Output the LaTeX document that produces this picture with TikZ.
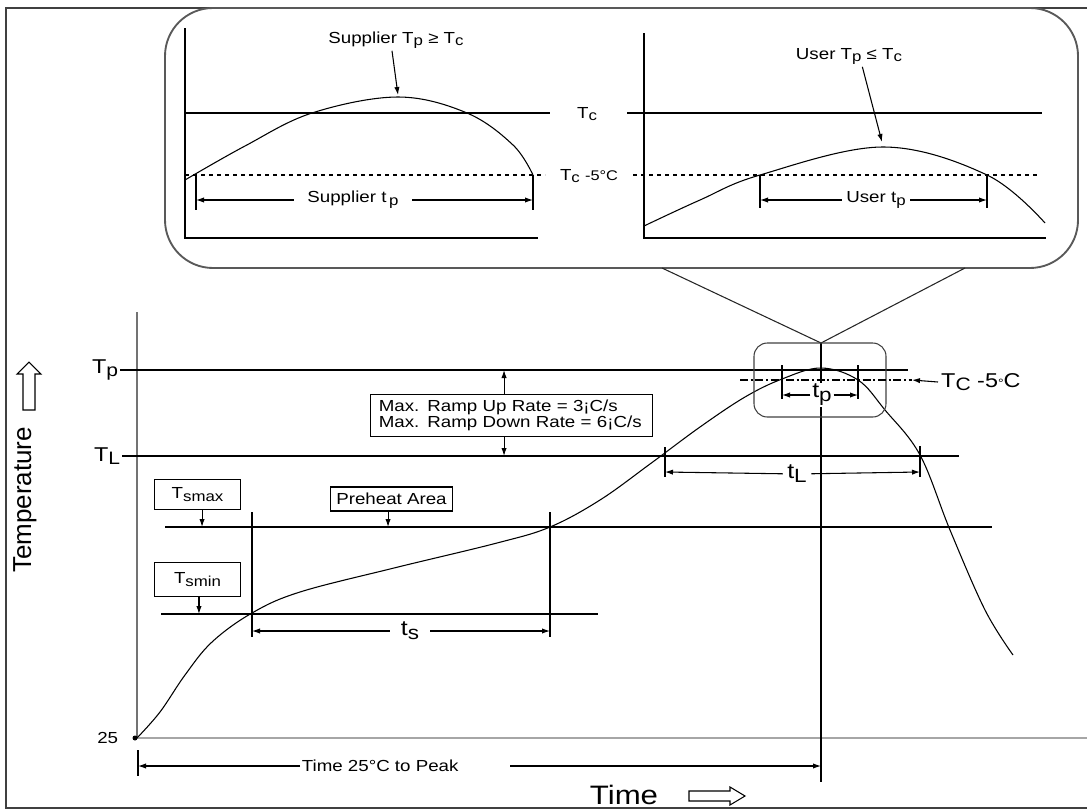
\documentclass[tikz,border=0pt]{standalone}
\usepackage{fontspec}
\setmainfont[FakeStretch=1.17]{Liberation Sans}
\newfontfamily\uprightsf{Liberation Sans}
\usetikzlibrary{arrows.meta}
\newcommand{\dn}[1]{\raisebox{-0.35ex}{\scalebox{0.9}{#1}}}
\newcommand{\fs}[1]{\fontsize{#1}{#1}\selectfont}

\begin{document}
\begin{tikzpicture}[x=0.75pt, y=-0.75pt, line width=0.8pt,
    >={Latex[length=6pt,width=4pt]},
    lab/.style={inner sep=1pt, font=\fs{12}},
    big/.style={inner sep=1pt, font=\fs{16}},
    tagbox/.style={draw, line width=0.8pt, inner sep=0pt, font=\fs{12}},
    hollow/.style={draw, line width=0.8pt, fill=white}]
    \useasboundingbox (0,0) rectangle (1087,810);

    % frame and callout
    \draw[line width=1.5pt, black!75] (1087,8) -- (6,8) -- (6,808) -- (1087,808);
    \draw[line width=1.4pt, black!65, rounded corners=36] (165,8) rectangle (1078,268);
    \coordinate (zoom) at (821,343);
    \coordinate (cl) at (662,268);
    \coordinate (cr) at (965,268);
    \draw[black!85] (cl) -- (zoom) -- (cr);

    % supplier inset
    \draw (185,28) -- (185,238) -- (538,238);
    \draw (185,113) -- (550,113);
    \draw[dashed] (185,175) -- (545,175);
    \draw plot[smooth, tension=0.6] coordinates {(185,180) (245,146) (312,113) (398,97) (467,113) (513,145) (533,175)};
    \draw (196,175) -- (196,210) (533,175) -- (533,210);
    \path
    node[lab, inner xsep=10pt] (suptp) at (353,200) {Supplier t\,\dn{p}}
    node[lab, anchor=base] (supTp) at (396,43) {Supplier T\dn{p} ≥ T\dn{c}}
    node[lab, anchor=base] (tc) at (587,118) {T\dn{c}}
    node[lab, anchor=base] (tc5) at (589,180) {T\dn{c} {\fs{10.5}-5°C}};
    \coordinate (suppeak) at (398,95);
    \path
    (suptp) edge[->] (196,200)
    (suptp) edge[->] (533,200)
    ([xshift=-3pt]supTp.south) edge[->] (suppeak);

    % user inset
    \draw (644,33) -- (644,238) -- (1046,238);
    \draw (627,113) -- (1042,113);
    \draw[dashed] (633,175) -- (1037,175);
    \draw plot[smooth, tension=0.6] coordinates {(644,226) (700,200) (760,175) (883,147) (987,175) (1045,223)};
    \draw (760,175) -- (760,208) (987,175) -- (987,208);
    \path
    node[lab, inner xsep=3pt] (usertp) at (876,200) {User t\dn{p}}
    node[lab, anchor=base] (userTp) at (849,59) {User T\dn{p} ≤ T\dn{c}};
    \coordinate (userpeak) at (882,142);
    \path
    (usertp) edge[->] (760,200)
    (usertp) edge[->] (987,200)
    ([xshift=10pt]userTp.south) edge[->] (userpeak);

    % axes
    \draw[black!55, line width=1pt] (137,312) -- (137,738);
    \draw[black!35, line width=2pt] (137,738) -- (1087,738);
    \fill (135,738) circle (2.5);
    \node[rotate=90, inner sep=0pt] (temp) at (25,500) {\uprightsf\fs{19.5}Temperature};
    \draw[hollow] (23,410) -- (23,374) -- (17,374) -- (29,362) -- (41,374) -- (35,374) -- (35,410) -- cycle;
    \node[inner sep=0pt, font=\fs{20}] (time) at (624,795) {Time};
    \draw[hollow] (689,791) -- (730,791) -- (730,787) -- (745,796) -- (730,805) -- (730,801) -- (689,801) -- cycle;
    \node[inner sep=1pt, font=\fs{12}, anchor=east] (t25) at (120,738) {25};

    % levels
    \coordinate (Tp-l) at (120,370);
    \coordinate (TL-l) at (122,456);
    \coordinate (smax-l) at (165,527);
    \coordinate (smin-l) at (161,614);
    \draw (Tp-l) -- (908,370);
    \draw (TL-l) -- (959,456);
    \draw (smax-l) -- (992,527);
    \draw (smin-l) -- (598,614);
    \node[inner sep=1pt, font=\fs{15}, anchor=east] (tplab) at (Tp-l) {T\dn{p}};
    \node[inner sep=1pt, font=\fs{15}, anchor=east] (tllab) at (TL-l) {T\dn{L}};

    % profile
    \draw plot[smooth, tension=0.6] coordinates {(137,738) (160,712) (185,675) (212,642) (252,613) (300,592) (394,568) (497,543) (550,527) (600,500) (650,464) (700,427) (745,397) (782,379) (821,368) (858,380) (885,410) (920,455) (950,530) (985,610) (1013,655)};

    % boxes
    \node[tagbox, minimum width=211pt, minimum height=32pt, text width=199pt, inner xsep=6pt, align=left, font=\fs{12}] (rate) at (511.5,415.5)
      {Max. Ramp Up Rate = 3¡C/s\\Max. Ramp Down Rate = 6¡C/s};
    \node[tagbox, minimum width=64pt, minimum height=23pt] (tsmax) at (197.5,494.5) {T\dn{smax}};
    \node[tagbox, minimum width=92pt, minimum height=18pt] (preheat) at (391.5,499) {Preheat Area};
    \node[tagbox, minimum width=64pt, minimum height=25pt] (tsmin) at (197.5,579.5) {T\dn{smin}};
    \path
    ([xshift=-5.6pt]rate.north) edge[->] ([xshift=-5.6pt]rate.north |- Tp-l)
    ([xshift=-5.6pt]rate.south) edge[->] ([xshift=-5.6pt]rate.south |- TL-l)
    ([xshift=3.4pt]tsmax.south) edge[->] ([xshift=3.4pt]tsmax.south |- smax-l)
    ([xshift=-2.6pt]preheat.south) edge[->] ([xshift=-2.6pt]preheat.south |- smax-l)
    ([xshift=1.1pt]tsmin.south) edge[->] ([xshift=1.1pt]tsmin.south |- smin-l);

    % ts
    \draw (252,512) -- (252,637) (550,512) -- (550,637);
    \node[big, inner xsep=8pt] (ts) at (410,631) {t\dn{s}};
    \path (ts) edge[->] (252,631) (ts) edge[->] (550,631);

    % peak zone
    \draw (zoom) -- (821,782);
    \draw[rounded corners=10, black!75] (754,343) rectangle (886,417);
    \draw[dash pattern=on 6pt off 2pt on 1.5pt off 2pt] (740,380) -- (912,380);
    \draw (782,365) -- (782,399) (858,365) -- (858,399);
    \node[big, fill=white] (tp) at (822,395) {t\dn{p}};
    \path (tp) edge[->] (782,395) (tp) edge[->] (858,395);
    \node[inner sep=2pt, font=\fs{15}, anchor=west] (tcmain) at (938,382) {T\dn{C} -5{\fs{9}°}C};
    \draw[->] (tcmain.west) -- (912,380);

    % tL
    \draw (665,447) -- (665,477) (920,446) -- (920,477);
    \node[big, inner xsep=3pt] (tl) at (797,474) {t\dn{L}};
    \path (tl) edge[->] (665,472) (tl) edge[->] (920,472);

    % time to peak
    \draw (138,750) -- (138,776);
    \node[lab, anchor=west] (t2peak) at (300,766) {Time 25°C to Peak};
    \coordinate (tpk) at (510,766);
    \path (t2peak) edge[->] (138,766) (tpk) edge[->] (821,766);
\end{tikzpicture}
\end{document}
